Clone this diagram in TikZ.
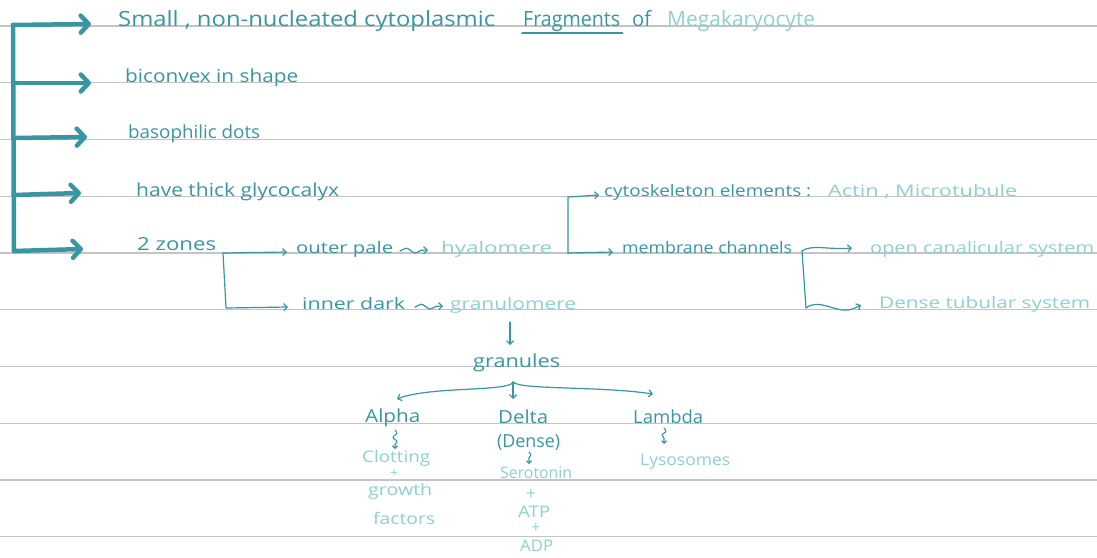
\documentclass[tikz,border=0pt]{standalone}
\usepackage{fontspec}
\usepackage{graphicx}
\setmainfont{Open Sans}
\usetikzlibrary{arrows.meta,decorations.pathmorphing,calc}
\definecolor{tdark}{HTML}{3796A2}
\definecolor{tlight}{HTML}{8ED0D1}
\definecolor{rule}{HTML}{C4C4C4}
\newcommand{\hw}[2]{\resizebox{#1pt}{\height}{#2}}
\tikzset{
  txt/.style={inner sep=0pt, anchor=base west, text=tdark, font=\fontsize{18}{18}\selectfont},
  lt/.style={txt, text=tlight},
  big/.style={font=\fontsize{21}{21}\selectfont},
  sm/.style={font=\fontsize{16}{16}\selectfont},
  plus/.style={inner sep=0pt, anchor=center, text=tlight, font=\fontsize{15}{15}\selectfont},
  trunk/.style={draw=tdark, line width=4.5pt, line cap=round, line join=round},
  bigarrow/.style={trunk, -{Straight Barb[length=8pt,width=17pt,line cap=round,line join=round]}},
  thin/.style={draw=tdark, line width=1.2pt, line cap=round, line join=round},
  thinarrow/.style={thin, -{Straight Barb[length=3.5pt,width=7pt]}},
  squig/.style={thin, -{Straight Barb[length=3.5pt,width=7pt]}, decorate,
     decoration={snake, amplitude=2.6pt, segment length=19pt, pre length=0pt, post length=5pt}},
  vsquig/.style={thin, line width=1.1pt, -{Straight Barb[length=2.5pt,width=5pt]}, decorate,
     decoration={snake, amplitude=2pt, segment length=9pt, post length=3pt}},
}
\begin{document}
\begin{tikzpicture}[x=1pt,y=-1pt]
\useasboundingbox (0,0) rectangle (1097,557);
\fill[white] (0,0) rectangle (1097,557);
% ruled lines
\foreach \k in {0,...,9} {
  \draw[rule, line width=1.4pt] (0,{26+56.75*\k}) -- (1097,{26+56.75*\k});
}
% text nodes
\node[txt,big] (n1a) at (118,26) {\hw{377}{Small , non-nucleated cytoplasmic}};
\node[txt,big] (n1b) at (523,26) {\hw{97}{Fragments}};
\node[txt,big] (n1c) at (632,26) {\hw{19}{of}};
\node[lt,big] (n1d) at (667,26) {\hw{148}{Megakaryocyte}};
\node[txt] (n2) at (125,82) {\hw{173}{biconvex in shape}};
\node[txt] (n3) at (128,138) {\hw{132}{basophilic dots}};
\node[txt] (n4) at (136,196) {\hw{203}{have thick glycocalyx}};
\node[txt] (n5) at (137,250) {\hw{79}{2 zones}};
\node[txt,sm] (n6) at (296,253) {\hw{97}{outer pale}};
\node[lt,sm] (n6b) at (441,253) {\hw{111}{hyalomere}};
\node[txt,sm] (n7) at (302,309) {\hw{103}{inner dark}};
\node[lt,sm] (n7b) at (450,309) {\hw{126}{granulomere}};
\node[txt,sm] (n8) at (604,196) {\hw{207}{cytoskeleton elements :}};
\node[lt,sm] (n8b) at (828,196) {\hw{189}{Actin , Microtubule}};
\node[txt,sm] (n9) at (622,253) {\hw{170}{membrane channels}};
\node[lt,sm] (n10) at (870,253) {\hw{224}{open canalicular system}};
\node[lt,sm] (n11) at (879,308) {\hw{211}{Dense tubular system}};
\node[txt] (gran) at (473,367) {\hw{87}{granules}};
\node[txt] (alpha) at (365,422) {\hw{55}{Alpha}};
\node[txt] (delta) at (498,423) {\hw{50}{Delta}};
\node[txt] (dense) at (497,447) {\hw{63}{(Dense)}};
\node[txt] (lambda) at (633,423) {\hw{70}{Lambda}};
\node[lt,sm] (clot) at (362,462) {\hw{68}{Clotting}};
\node[plus,font=\fontsize{13}{13}\selectfont] (p1) at (394,474) {+};
\node[lt,sm] (growth) at (368,495) {\hw{64}{growth}};
\node[lt,sm] (fact) at (373,524) {\hw{62}{factors}};
\node[lt,sm] (sero) at (500,478) {\hw{72}{Serotonin}};
\node[plus,font=\fontsize{17}{17}\selectfont] (p2) at (531,494) {+};
\node[lt,sm] (atp) at (518,517) {\hw{32}{ATP}};
\node[plus] (p3) at (536,528) {+};
\node[lt,sm] (adp) at (520,551) {\hw{33}{ADP}};
\node[lt,sm] (lyso) at (640,465) {\hw{90}{Lysosomes}};
% underline of Fragments
\draw[thin, line width=1.8pt] ($(n1b.base west)+(-1,7)$) -- ($(n1b.base east)+(2,7)$);
% main trunk
\coordinate (t1) at (13,25);
\coordinate (t2) at (13,83);
\coordinate (t3) at (13,138);
\coordinate (t4) at (13.5,195);
\coordinate (t5) at (14,251);
\coordinate (e1) at (91,24);
\coordinate (e2) at (91,83);
\coordinate (e3) at (87,137);
\coordinate (e4) at (81,193);
\coordinate (e5) at (83,249);
\draw[trunk] (t1) -- (t5);
\draw[bigarrow] (t1) -- (e1);
\draw[bigarrow] (t2) -- (e2);
\draw[bigarrow] (t3) -- (e3);
\draw[bigarrow] (t4) -- (e4);
\draw[bigarrow] (t5) -- (e5);
% 2 zones bracket
\coordinate (z0) at (223,253);
\coordinate (z1) at (226,308);
\coordinate (zo) at (287,252);
\coordinate (zi) at (288,307);
\draw[thinarrow] (z0) -- (zo);
\draw[thinarrow] (z0) -- (z1) -- (zi);
% squiggles
\draw[squig] (400,251) -- (428,250);
\draw[squig] (415,307) -- (443,306);
% hyalomere bracket
\coordinate (h0) at (568,253);
\coordinate (h1) at (568,197);
\coordinate (hc) at (599,195);
\coordinate (hm) at (613,252);
\draw[thinarrow] (h0) -- (h1) -- (hc);
\draw[thinarrow] (h0) -- (hm);
% channels bracket
\coordinate (c0) at (802,251);
\coordinate (c1) at (806,308);
\coordinate (co) at (852,248);
\coordinate (cd) at (861,305);
\draw[thinarrow] (c0) .. controls (812,244) and (828,250) .. (co);
\draw[thin] (c0) -- (c1);
\draw[thinarrow] (c1) .. controls (818,298) and (835,312) .. (848,310) .. controls (853,309) .. (cd);
% granulomere to granules
\coordinate (g0) at (510,322);
\coordinate (g1) at (510,345);
\draw[thinarrow] (g0) -- (g1);
% granules branches
\coordinate (gs) at (513,382);
\coordinate (ga) at (397,399);
\coordinate (gd) at (513,399);
\coordinate (gl) at (653,394);
\draw[thinarrow] (gs) .. controls (510,392) and (430,386) .. (ga);
\draw[thinarrow] (gs) -- (gd);
\draw[thinarrow] (gs) .. controls (520,390) and (600,386) .. (gl);
% small squiggle arrows
\draw[vsquig] (395,430) -- (395,449);
\draw[vsquig] (529,452) -- (529,464);
\draw[vsquig] (664,428) -- (664,444);
\end{tikzpicture}
\end{document}
